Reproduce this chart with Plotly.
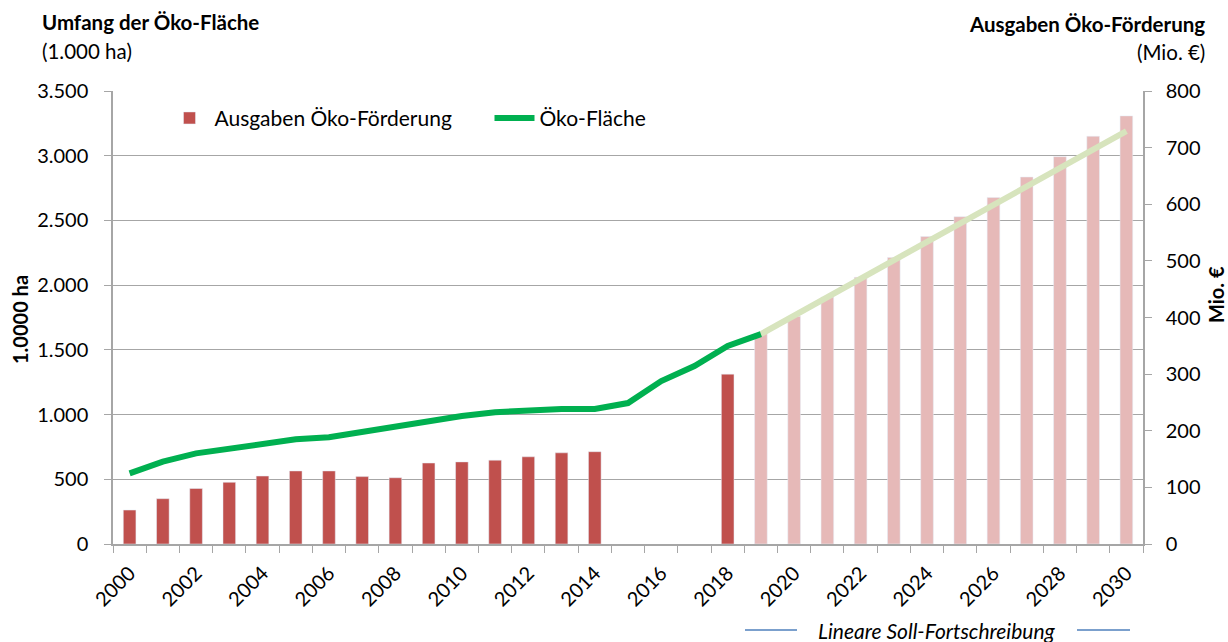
import plotly.graph_objects as go

years_hist = list(range(2000, 2020))
area_hist = [546, 636, 700, 739, 778, 809, 825, 868, 912, 945, 989, 1018, 1030, 1043, 1043,
             1089, 1259, 1375, 1530, 1622]

target_years = [2019, 2030]
target_area = [1622, 3190]

spend_years = [2000, 2001, 2002, 2003, 2004, 2005, 2006, 2007, 2008, 2009, 2010, 2011, 2012,
               2013, 2014, 2018]
spend_vals = [60, 80, 98, 109, 120, 129, 129, 119, 117, 143, 145, 148, 154, 161, 163, 300]

proj_years = list(range(2019, 2031))
proj_vals = [372, 402, 436, 471, 506, 543, 578, 612, 648, 684, 720, 756]

left_ticks = [0, 500, 1000, 1500, 2000, 2500, 3000, 3500]
left_labels = ["0", "500", "1.000", "1.500", "2.000", "2.500", "3.000", "3.500"]
right_ticks = [0, 100, 200, 300, 400, 500, 600, 700, 800]
x_ticks = list(range(2000, 2031, 2))

FONT = "Lato"
GRID = "#A6A6A6"
FS = 20

fig = go.Figure()
fig.add_trace(go.Bar(x=spend_years, y=spend_vals, width=0.38, marker_color="#C0504D",
                     name="Ausgaben Öko-Förderung", yaxis="y"))
fig.add_trace(go.Bar(x=proj_years, y=proj_vals, width=0.38, marker_color="#E6B9B8",
                     showlegend=False, yaxis="y"))
fig.add_trace(go.Scatter(x=target_years, y=target_area, mode="lines",
                         line=dict(color="#D7E4BD", width=6), showlegend=False, yaxis="y2"))
fig.add_trace(go.Scatter(x=years_hist, y=area_hist, mode="lines",
                         line=dict(color="#00B050", width=6), name="Öko-Fläche", yaxis="y2"))

fig.update_layout(
    width=1228, height=642,
    margin=dict(l=113, r=85, t=91, b=98),
    paper_bgcolor="white", plot_bgcolor="white",
    font=dict(family=FONT, size=FS, color="#000000"),
    barmode="overlay",
    xaxis=dict(range=[1999.5, 2030.5], tickvals=x_ticks, tickangle=-45,
               ticks="", showline=True, linecolor=GRID, linewidth=1.5,
               showgrid=False, zeroline=False, ticklabelstandoff=8,
               minor=dict(tick0=1999.5, dtick=1, ticks="outside", ticklen=7,
                          tickcolor=GRID, showgrid=False),
               tickfont=dict(size=FS)),
    yaxis=dict(range=[0, 800], side="right", tickvals=right_ticks, ticks="outside",
               ticklen=7, tickcolor=GRID, showline=True, linecolor=GRID, linewidth=1.5,
               showgrid=False, zeroline=False, ticklabelstandoff=10,
               tickfont=dict(size=FS)),
    yaxis2=dict(range=[0, 3500], side="left", overlaying="y", tickvals=left_ticks,
                ticktext=left_labels, ticks="outside", ticklen=7, tickcolor=GRID,
                showline=True, linecolor=GRID, linewidth=1.5, showgrid=True,
                gridcolor=GRID, gridwidth=1.3, zeroline=False, ticklabelstandoff=12,
                tickfont=dict(size=FS)),
    legend=dict(orientation="h", x=0.05, y=0.985, xanchor="left", yanchor="top",
                bgcolor="rgba(0,0,0,0)", font=dict(size=21), itemwidth=40,
                entrywidth=270, traceorder="normal"),
    showlegend=True,
)


def px_x(x):
    return (x - 113) / 1030


def px_y(y):
    return (544 - y) / 453


for text, yy in [("<b>Umfang der Öko-Fläche</b>", 22), ("(1.000 ha)", 51)]:
    fig.add_annotation(text=text, xref="paper", yref="paper", x=px_x(40), y=px_y(yy),
                       xanchor="left", yanchor="middle", showarrow=False,
                       font=dict(size=20.5))
for text, yy in [("<b>Ausgaben Öko-Förderung</b>", 24), ("(Mio. €)", 52)]:
    fig.add_annotation(text=text, xref="paper", yref="paper", x=px_x(1207), y=px_y(yy),
                       xanchor="right", yanchor="middle", showarrow=False,
                       font=dict(size=20.5))
fig.add_annotation(text="<b>1.0000 ha</b>", xref="paper", yref="paper",
                   x=px_x(20), y=px_y(320), textangle=-90,
                   xanchor="center", yanchor="middle", showarrow=False, font=dict(size=20))
fig.add_annotation(text="<b>Mio. €</b>", xref="paper", yref="paper",
                   x=px_x(1216), y=px_y(295), textangle=-90,
                   xanchor="center", yanchor="middle", showarrow=False, font=dict(size=20))
fig.add_annotation(text="<i>Lineare Soll-Fortschreibung</i>", xref="paper", yref="paper",
                   x=px_x(937), y=px_y(630),
                   xanchor="center", yanchor="middle", showarrow=False, font=dict(size=21))
for x0, x1 in [(745, 797), (1077, 1130)]:
    fig.add_shape(type="line", xref="paper", yref="paper",
                  x0=px_x(x0), x1=px_x(x1), y0=px_y(630), y1=px_y(630),
                  line=dict(color="#4F81BD", width=1.5))

fig.write_html("out.html", config={"displayModeBar": False},
               post_script="document.body.style.margin='0px';")
